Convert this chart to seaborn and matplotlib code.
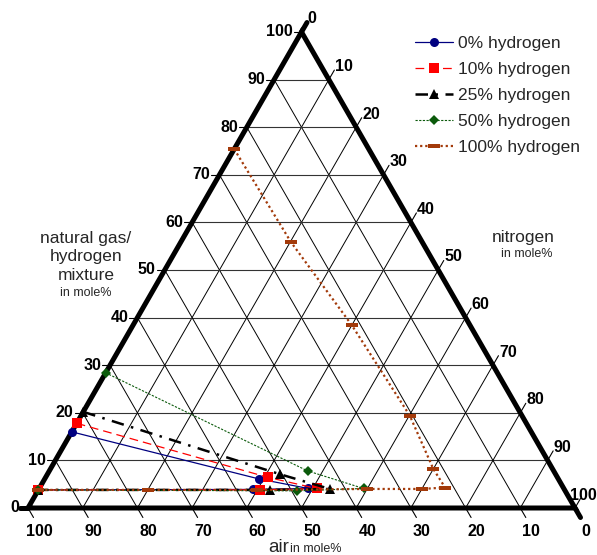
import numpy as np
import pandas as pd
import matplotlib
matplotlib.use("Agg")
import matplotlib.pyplot as plt
import seaborn as sns

sns.set_style("white")
plt.rcParams['font.family'] = ['Liberation Sans', 'DejaVu Sans']

# data: fuel (natural gas/hydrogen) and nitrogen in mole%
series_names = ["0% hydrogen", "10% hydrogen", "25% hydrogen", "50% hydrogen", "100% hydrogen"]
fuel_0 = [16.0, 6.1, 4.1, 3.9, 3.8]
nitro_0 = [0.0, 39.2, 49.2, 39.2, 0.0]
fuel_10 = [17.8, 6.45, 4.1, 3.8, 3.8]
nitro_10 = [0.0, 40.6, 50.7, 40.5, 0.0]
fuel_25 = [20.2, 7.1, 4.0, 3.8, 3.8]
nitro_25 = [0.0, 42.5, 53.2, 42.3, 0.0]
fuel_50 = [28.4, 7.8, 4.1, 3.6, 3.8]
nitro_50 = [0.0, 47.2, 59.3, 47.3, 0.0]
fuel_100 = [75.4, 55.9, 38.4, 19.4, 8.2, 4.3, 4.0, 4.0, 3.8, 3.8, 3.8]
nitro_100 = [0.0, 20.1, 40.0, 60.1, 70.0, 74.1, 70.0, 59.9, 40.0, 20.0, 0.0]
tick_values = [0, 10, 20, 30, 40, 50, 60, 70, 80, 90, 100]

fuels = [fuel_0, fuel_10, fuel_25, fuel_50, fuel_100]
nitros = [nitro_0, nitro_10, nitro_25, nitro_50, nitro_100]


def to_xy(f, n):
    # ternary -> cartesian (air vertex bottom-left, nitrogen bottom-right, fuel on top)
    f = np.asarray(f, dtype=float)
    n = np.asarray(n, dtype=float)
    return n + 0.5 * f, f


W, H = 597, 555
X0, SX, Y0, SY = 28.0, 5.47, 508.0, 4.76  # pixel frame of the triangle

fig = plt.figure(figsize=(W / 100, H / 100), dpi=100)
ax = fig.add_axes([0, 0, 1, 1])
ax.set_xlim(-X0 / SX, (W - X0) / SX)
ax.set_ylim((Y0 - H) / SY, Y0 / SY)
ax.axis("off")

# grid
for v in tick_values[1:-1]:
    x, y = to_xy([v, v], [0, 100 - v])
    ax.plot(x, y, color="#333333", lw=0.8, zorder=1)
    x, y = to_xy([0, 100 - v], [v, v])
    ax.plot(x, y, color="black", lw=0.7, zorder=1)
    x, y = to_xy([0, 100 - v], [100 - v, 0])
    ax.plot(x, y, color="black", lw=0.7, zorder=1)

# border
x, y = to_xy([0, 100, 0, 0], [0, 0, 100, 0])
ax.plot(x, y, color="black", lw=3.6, solid_joinstyle="miter", zorder=3)

tick_font = dict(fontsize=11.5, fontweight="bold", color="black")

def px_off(dx, dy):
    return dx / SX, -dy / SY

for v in tick_values:
    # left axis: fuel
    x, y = to_xy(v, 0)
    lw = 3.6 if v == 0 else 0.8
    ex, ey = px_off(-8, 0)
    ax.plot([x, x + ex], [y, y + ey], color="black", lw=lw, zorder=3)
    ax.annotate(str(v), (x, y), xytext=(-9, 0), textcoords="offset pixels",
                ha="right", va="center", **tick_font)
    # right axis: nitrogen
    x, y = to_xy(100 - v, v)
    lw = 3.6 if v == 0 else 0.8
    ex, ey = px_off(5.5, -9.5)
    ax.plot([x, x + ex], [y, y + ey], color="black", lw=lw, zorder=3)
    if v == 100:
        ax.annotate(str(v), (x, y), xytext=(22, 13), textcoords="offset pixels",
                    ha="right", va="center", **tick_font)
    else:
        ax.annotate(str(v), (x, y), xytext=(6, 13), textcoords="offset pixels",
                    ha="left", va="center", **tick_font)
    # bottom axis: air
    x, y = to_xy(0, 100 - v)
    lw = 3.6 if v == 0 else 0.8
    ex, ey = px_off(5.5, 9.5)
    ax.plot([x, x + ex], [y, y + ey], color="black", lw=lw, zorder=3)
    ax.annotate(str(v), (x, y), xytext=(11, -23), textcoords="offset pixels",
                ha="center", va="center", **tick_font)

# series
styles = [
    dict(color="#000080", lw=0.9, linestyle="-", marker="o", markersize=6.5),
    dict(color="#FF0000", lw=0.9, linestyle=(0, (7, 4)), marker="s", markersize=6.5),
    dict(color="black", lw=1.8, linestyle=(0, (5, 3, 1, 3)), marker="^", markersize=6.5),
    dict(color="#0B5A0B", lw=0.8, linestyle=(0, (2, 1.3)), marker="D", markersize=5.5),
    dict(color="#A33A0A", lw=1.6, linestyle=(0, (1, 1.3)),
         marker=[(-1, -0.35), (1, -0.35), (1, 0.35), (-1, 0.35)], markersize=8),
]

for name, f, n, st in zip(series_names, fuels, nitros, styles):
    x, y = to_xy(f, n)
    df = pd.DataFrame({"x": x, "y": y})
    sns.lineplot(data=df, x="x", y="y", sort=False, estimator=None, ax=ax,
                 label=name, markeredgewidth=0, zorder=4, **st)

ax.set_xlabel("")
ax.set_ylabel("")
leg = ax.legend(loc="upper left", bbox_to_anchor=(415 / W, 1 - 36 / H),
                frameon=False, fontsize=12.5, handlelength=2.2, handletextpad=0.25,
                labelspacing=0.62, borderpad=0, borderaxespad=0)

# axis titles
def ftext(px, py, s, **kw):
    fig.text(px / W, 1 - py / H, s, **kw)

ftext(86, 257, "natural gas/\nhydrogen\nmixture", fontsize=12.5, ha="center",
      va="center", linespacing=1.3)
ftext(86, 293, "in mole%", fontsize=9, ha="center", va="center")
ftext(523, 237, "nitrogen", fontsize=12.5, ha="center", va="center")
ftext(527, 254, "in mole%", fontsize=9, ha="center", va="center")
ftext(289, 547, "air", fontsize=13.5, ha="right", va="center")
ftext(290, 549, "in mole%", fontsize=9, ha="left", va="center")

fig.savefig("out.png", dpi=100)
